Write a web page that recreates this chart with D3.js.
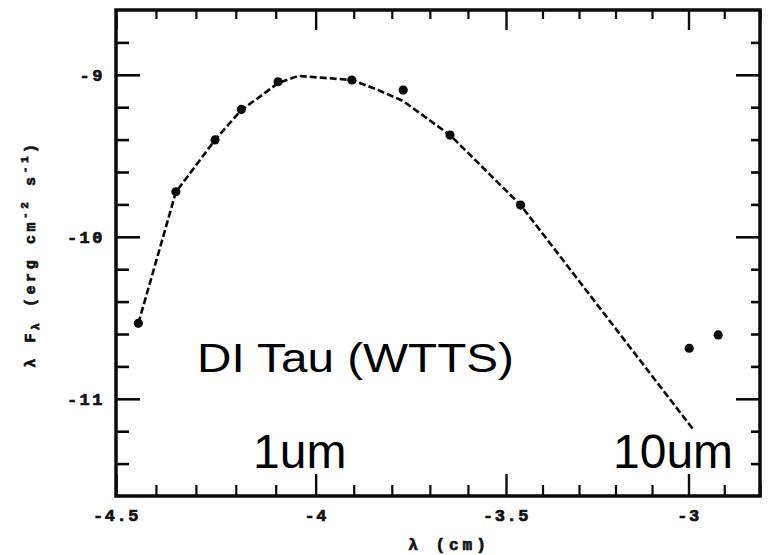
<!DOCTYPE html>
<html>
<head>
<meta charset="utf-8">
<script src="https://cdn.jsdelivr.net/npm/d3@7/dist/d3.min.js"></script>
<style>
  html, body { margin: 0; padding: 0; background: #fff; }
  svg { display: block; }
  .tick-label { font-family: "Liberation Mono", monospace; font-weight: bold; fill: #111; stroke: #111; stroke-width: 0.7px; }
  .annot { font-family: "Liberation Sans", Arial, sans-serif; fill: #000; }
</style>
</head>
<body>
<svg id="chart" width="768" height="555"></svg>
<script>
// Photometry of DI Tau: log wavelength (cm) vs log λF_λ (erg cm^-2 s^-1)
const obsLogLambda = [-4.444, -4.350, -4.252, -4.186, -4.094, -3.905, -3.770, -3.647, -3.460, -2.998, -2.917];
const obsLogFlux   = [-10.534, -9.722, -9.402, -9.214, -9.043, -9.032, -9.094, -9.372, -9.804, -10.688, -10.606];

// Photospheric model curve (dashed)
const modelLogLambda = [-4.444, -4.350, -4.252, -4.186, -4.134, -4.094, -4.044, -3.905, -3.836, -3.770, -3.647, -3.460, -2.988];
const modelLogFlux   = [-10.534, -9.724, -9.402, -9.217, -9.125, -9.051, -9.007, -9.032, -9.094, -9.162, -9.372, -9.804, -11.186];

// Axis ticks
const xMajorTicks = [-4.5, -4, -3.5, -3];
const xTickLabels = ["-4.5", "-4", "-3.5", "-3"];
const yMajorTicks = [-9, -10, -11];
const yTickLabels = ["-9", "-10", "-11"];

// Axis calibration stops (the printed wavelength axis is slightly non-uniform)
const xStops = [-4.5, -4, -3.5, -3, -2.8];
const xStopFrac = [0, 0.310, 0.6056, 0.889, 1];
const yDomain = [-8.6, -11.6];

const svg = d3.select("#chart");
const L = 116, R = 760, T = 10, B = 496;

const x = d3.scaleLinear().domain(xStops).range(xStopFrac.map(f => L + f * (R - L)));
const y = d3.scaleLinear().domain(yDomain).range([T, B]);

const xMinor = d3.range(0, 18).map(i => +(-4.5 + i * 0.1).toFixed(1)).filter(v => !xMajorTicks.includes(v));
const yMinor = d3.range(0, 16).map(i => +(-8.6 - i * 0.2).toFixed(1)).filter(v => !yMajorTicks.includes(v) && v > -11.6 && v < -8.6);

const ink = "#0a0a0a";
const majorLen = 22, minorLen = 11;

function styleAxis(g, w) {
  g.select(".domain").remove();
  g.selectAll(".tick line").attr("stroke", ink).attr("stroke-width", w);
}

// bottom
svg.append("g").attr("transform", `translate(0,${B})`)
  .call(d3.axisBottom(x).tickValues(xMinor).tickSize(-minorLen).tickFormat(""))
  .call(g => styleAxis(g, 2.2));
svg.append("g").attr("transform", `translate(0,${B})`)
  .call(d3.axisBottom(x).tickValues(xMajorTicks).tickSize(-majorLen).tickPadding(12)
        .tickFormat((d, i) => xTickLabels[i]))
  .call(g => {
    styleAxis(g, 2.4);
    g.selectAll(".tick text").attr("class", "tick-label").attr("font-size", 17)
      .attr("letter-spacing", 1.5).attr("dy", "0.75em");
  });
// top
svg.append("g").attr("transform", `translate(0,${T})`)
  .call(d3.axisTop(x).tickValues(xMinor).tickSize(-minorLen + 2).tickFormat(""))
  .call(g => styleAxis(g, 2.2));
svg.append("g").attr("transform", `translate(0,${T})`)
  .call(d3.axisTop(x).tickValues(xMajorTicks).tickSize(-majorLen + 2).tickFormat(""))
  .call(g => styleAxis(g, 2.4));
// left
svg.append("g").attr("transform", `translate(${L},0)`)
  .call(d3.axisLeft(y).tickValues(yMinor).tickSize(-minorLen - 2).tickFormat(""))
  .call(g => styleAxis(g, 2.6));
svg.append("g").attr("transform", `translate(${L},0)`)
  .call(d3.axisLeft(y).tickValues(yMajorTicks).tickSize(-majorLen - 2).tickPadding(11)
        .tickFormat((d, i) => yTickLabels[i]))
  .call(g => {
    styleAxis(g, 2.6);
    g.selectAll(".tick text").attr("class", "tick-label").attr("font-size", 17)
      .attr("letter-spacing", 2.5);
  });
// right
svg.append("g").attr("transform", `translate(${R},0)`)
  .call(d3.axisRight(y).tickValues(yMinor).tickSize(-minorLen + 2).tickFormat(""))
  .call(g => styleAxis(g, 2.6));
svg.append("g").attr("transform", `translate(${R},0)`)
  .call(d3.axisRight(y).tickValues(yMajorTicks).tickSize(-majorLen - 2).tickFormat(""))
  .call(g => styleAxis(g, 2.6));

// frame
svg.append("rect").attr("x", L).attr("y", T).attr("width", R - L).attr("height", B - T)
  .attr("fill", "none").attr("stroke", ink).attr("stroke-width", 3.5);

// model curve
const line = d3.line().x(d => x(d[0])).y(d => y(d[1]));
svg.append("path")
  .datum(d3.zip(modelLogLambda, modelLogFlux))
  .attr("d", line)
  .attr("fill", "none").attr("stroke", ink).attr("stroke-width", 2.6)
  .attr("stroke-dasharray", "7,3");

// photometric points
svg.append("g").selectAll("circle")
  .data(d3.zip(obsLogLambda, obsLogFlux))
  .join("circle")
  .attr("cx", d => x(d[0])).attr("cy", d => y(d[1])).attr("r", 4.6)
  .attr("fill", ink);

// axis titles
svg.append("text").attr("class", "tick-label")
  .attr("x", 449).attr("y", 550).attr("text-anchor", "middle")
  .attr("font-size", 16).attr("letter-spacing", 4)
  .text("λ (cm)");

const yTitle = svg.append("text").attr("class", "tick-label")
  .attr("transform", "translate(35,254) rotate(-90)")
  .attr("text-anchor", "middle").attr("font-size", 15).attr("letter-spacing", 3.6);
yTitle.append("tspan").text("λ F");
yTitle.append("tspan").attr("font-size", 11).attr("dy", 4).text("λ");
yTitle.append("tspan").attr("dy", -4).text(" (erg cm");
yTitle.append("tspan").attr("font-size", 11).attr("dy", -7).text("-2");
yTitle.append("tspan").attr("dy", 7).text(" s");
yTitle.append("tspan").attr("font-size", 11).attr("dy", -7).text("-1");
yTitle.append("tspan").attr("dy", 7).text(")");

// annotations
svg.append("text").attr("class", "annot")
  .attr("x", 197).attr("y", 372).attr("font-size", 40)
  .attr("textLength", 317).attr("lengthAdjust", "spacingAndGlyphs")
  .text("DI Tau (WTTS)");
svg.append("text").attr("class", "annot")
  .attr("x", 253).attr("y", 468).attr("font-size", 48).text("1um");
svg.append("text").attr("class", "annot")
  .attr("x", 613).attr("y", 468).attr("font-size", 48).text("10um");
</script>
</body>
</html>
